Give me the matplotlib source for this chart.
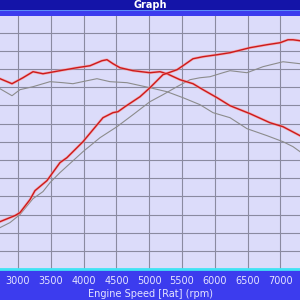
import numpy as np
import matplotlib
matplotlib.use('Agg')
import matplotlib.pyplot as plt
from matplotlib.patches import Rectangle

# ─── DATA ───────────────────────────────────────────────────────────────────
# red = current run, gray = baseline run
rpm_tq_red = [2726, 2909, 3076, 3229, 3381, 3640, 3899, 4098, 4280, 4357, 4448, 4555,
              4753, 5012, 5165, 5271, 5470, 5668, 5820, 6034, 6232, 6537, 6841, 7040, 7299]
tq_red = [261.7, 254.8, 263.0, 271.3, 268.5, 272.7, 276.8, 279.5, 286.4, 287.8, 282.3, 276.8,
          272.7, 269.9, 271.3, 268.5, 260.3, 254.8, 246.6, 235.6, 224.6, 213.6, 201.2, 195.7, 183.4]

rpm_tq_gray = [2726, 2909, 3030, 3229, 3488, 3686, 3838, 4052, 4204, 4402, 4662, 5012,
               5271, 5515, 5774, 5973, 6232, 6491, 6796, 7040, 7192, 7299]
tq_gray = [247.9, 238.3, 246.6, 250.7, 257.6, 256.2, 254.8, 258.9, 261.7, 257.6, 256.2, 249.3,
           243.8, 235.6, 226.0, 215.0, 208.1, 193.0, 183.4, 175.1, 168.3, 161.4]

rpm_pw_red = [2726, 2954, 3030, 3183, 3259, 3442, 3640, 3747, 3991, 4296, 4448, 4524, 4631,
              4860, 5012, 5210, 5424, 5515, 5668, 5820, 6034, 6232, 6537, 6796, 6994, 7116, 7192, 7299]
pw_red = [65.2, 73.5, 77.6, 95.5, 107.8, 121.6, 146.3, 153.2, 175.1, 208.1, 215.0, 216.3, 223.2,
          236.9, 249.3, 267.2, 274.0, 279.5, 289.1, 291.9, 294.6, 297.4, 304.3, 308.4, 311.1, 315.2, 315.2, 313.9]

rpm_pw_gray = [2726, 2878, 3030, 3229, 3381, 3488, 3640, 3991, 4250, 4509, 4753, 5012, 5210,
               5424, 5622, 5774, 5927, 6125, 6232, 6491, 6735, 7040, 7299]
pw_gray = [57.0, 63.9, 74.9, 96.8, 106.5, 118.8, 132.6, 161.4, 180.6, 195.7, 212.2, 230.1, 239.7,
           250.7, 260.3, 263.0, 264.4, 269.9, 272.7, 269.9, 278.2, 285.0, 282.3]

x_ticks = [3000, 3500, 4000, 4500, 5000, 5500, 6000, 6500, 7000]

fig = plt.figure(figsize=(3, 3), dpi=100)
fig.patch.set_facecolor('#3c3cee')

# title bar
fig.patches.append(Rectangle((0, 0.967), 1, 0.033, transform=fig.transFigure,
                             facecolor='#1414a8', edgecolor='none', zorder=0))
fig.patches.append(Rectangle((0, 0.962), 1, 0.006, transform=fig.transFigure,
                             facecolor='#5a8cf8', edgecolor='none', zorder=0))
fig.text(0.5, 0.983, "Graph", ha='center', va='center', color='white',
         fontsize=7, fontweight='bold')

ax = fig.add_axes([0, 0.103, 1, 0.844])
ax.set_facecolor('#dcdcfa')

ax.plot(rpm_tq_gray, tq_gray, color='#8c8c8c', lw=0.8)
ax.plot(rpm_pw_gray, pw_gray, color='#8c8c8c', lw=0.8)
for r, v in [(rpm_tq_red, tq_red), (rpm_pw_red, pw_red)]:
    ax.plot(r, v, color='#ff9090', lw=2.0, alpha=0.6)
    ax.plot(r, v, color='#cc1a1a', lw=1.0)

ax.set_xlim(2726, 7299)
ax.set_ylim(0, 348)
ax.set_xticks(x_ticks)
ax.set_yticks(np.arange(0, 348, 25))
ax.grid(color='#8a8aa0', lw=0.8)
ax.set_axisbelow(True)
ax.tick_params(axis='x', length=0, pad=5, labelsize=7, colors='#e4e4ff')
ax.tick_params(axis='y', length=0, labelleft=False)
for s in ['left', 'right', 'top']:
    ax.spines[s].set_visible(False)
ax.spines['bottom'].set_color('#40e4f4')
ax.spines['bottom'].set_linewidth(2)
ax.set_xlabel("Engine Speed [Rat] (rpm)", fontsize=7, color='#e4e4ff', labelpad=2)

fig.savefig("out.png", dpi=100, facecolor=fig.get_facecolor())
